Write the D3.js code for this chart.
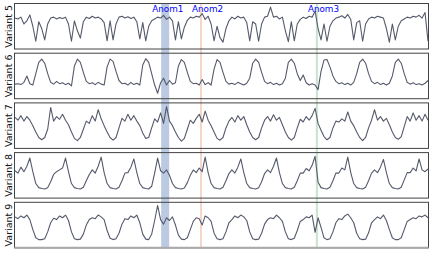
<!DOCTYPE html>
<html>
<head>
<meta charset="utf-8">
<script src="https://cdn.jsdelivr.net/npm/d3@7"></script>
<style>
  body { margin: 0; background: #fff; }
  svg { display: block; font-family: "DejaVu Sans", sans-serif; }
</style>
</head>
<body>
<svg id="chart" width="432" height="255"></svg>
<script>
// -- data (0 = panel bottom, 1 = panel top) -- //
let panelLabels = ["Variant 5", "Variant 6", "Variant 7", "Variant 8", "Variant 9"];

let variant5 = [0.68,0.66,0.70,0.55,0.62,0.75,0.50,0.17,0.60,0.45,0.20,0.55,0.68,0.70,0.66,0.69,0.67,0.70,0.55,0.17,
  0.62,0.40,0.24,0.60,0.70,0.67,0.72,0.68,0.70,0.66,0.58,0.18,0.62,0.20,0.55,0.70,0.72,0.68,0.71,0.67,
  0.70,0.60,0.22,0.58,0.18,0.50,0.62,0.66,0.70,0.68,0.74,0.65,0.70,0.62,0.20,0.60,0.22,0.48,0.63,0.70,
  0.68,0.72,0.70,0.78,0.65,0.72,0.55,0.18,0.50,0.25,0.15,0.45,0.62,0.70,0.66,0.72,0.68,0.70,0.58,0.18,
  0.60,0.55,0.17,0.55,0.70,0.72,0.92,0.70,0.72,0.66,0.70,0.40,0.16,0.60,0.18,0.55,0.65,0.70,0.67,0.72,
  0.70,0.83,0.45,0.20,0.55,0.17,0.50,0.62,0.68,0.70,0.73,0.68,0.76,0.65,0.20,0.58,0.62,0.17,0.55,0.66,
  0.70,0.68,0.72,0.70,0.68,0.45,0.15,0.55,0.20,0.50,0.62,0.66,0.70,0.68,0.72,0.70,0.74,0.68,0.80,0.17];

let variant6 = [0.32,0.33,0.31,0.36,0.50,0.33,0.30,0.55,0.80,0.87,0.78,0.55,0.36,0.32,0.38,0.33,0.35,0.31,0.34,0.28,
  0.72,0.87,0.80,0.58,0.38,0.33,0.35,0.31,0.36,0.32,0.30,0.70,0.87,0.82,0.60,0.40,0.33,0.34,0.30,0.36,
  0.31,0.34,0.30,0.74,0.88,0.80,0.55,0.30,0.12,0.35,0.45,0.30,0.40,0.32,0.35,0.72,0.86,0.80,0.58,0.38,
  0.33,0.34,0.30,0.42,0.31,0.35,0.30,0.65,0.86,0.80,0.58,0.38,0.32,0.34,0.31,0.36,0.33,0.30,0.34,0.45,
  0.78,0.87,0.80,0.58,0.38,0.33,0.36,0.31,0.34,0.30,0.33,0.45,0.80,0.87,0.78,0.55,0.40,0.52,0.35,0.30,
  0.33,0.30,0.20,0.60,0.85,0.86,0.70,0.50,0.38,0.33,0.35,0.31,0.34,0.30,0.36,0.55,0.80,0.87,0.78,0.55,
  0.38,0.33,0.36,0.31,0.34,0.30,0.34,0.50,0.80,0.87,0.78,0.55,0.36,0.32,0.35,0.31,0.33,0.30,0.34,0.40];

let variant7 = [0.68,0.62,0.72,0.60,0.70,0.62,0.50,0.36,0.24,0.19,0.24,0.42,0.90,0.60,0.70,0.64,0.75,0.62,0.52,0.36,
  0.22,0.17,0.24,0.42,0.60,0.55,0.72,0.60,0.85,0.65,0.50,0.36,0.24,0.18,0.24,0.45,0.66,0.60,0.75,0.62,
  0.72,0.60,0.50,0.34,0.22,0.24,0.45,0.65,0.58,0.78,0.55,0.92,0.60,0.50,0.36,0.24,0.16,0.22,0.42,0.62,
  0.55,0.66,0.75,0.58,0.82,0.62,0.50,0.36,0.22,0.18,0.24,0.45,0.60,0.68,0.58,0.72,0.62,0.70,0.52,0.36,
  0.24,0.19,0.24,0.45,0.62,0.70,0.60,0.74,0.62,0.68,0.52,0.36,0.24,0.18,0.24,0.45,0.64,0.58,0.70,0.62,
  0.72,0.88,0.55,0.40,0.26,0.19,0.24,0.45,0.60,0.58,0.65,0.60,0.80,0.60,0.50,0.36,0.24,0.17,0.24,0.45,
  0.62,0.85,0.62,0.70,0.60,0.66,0.52,0.36,0.24,0.20,0.26,0.48,0.70,0.60,0.78,0.62,0.72,0.60,0.75,0.62];

let variant8 = [0.60,0.55,0.68,0.58,0.70,0.88,0.58,0.32,0.23,0.21,0.20,0.23,0.36,0.52,0.58,0.62,0.66,0.88,0.58,0.32,
  0.23,0.21,0.20,0.24,0.38,0.52,0.62,0.55,0.70,0.90,0.56,0.32,0.23,0.21,0.20,0.24,0.38,0.55,0.56,0.68,
  0.86,0.56,0.32,0.23,0.21,0.20,0.26,0.55,0.88,0.60,0.55,0.62,0.50,0.32,0.23,0.21,0.20,0.22,0.34,0.50,
  0.62,0.56,0.66,0.58,0.90,0.56,0.32,0.23,0.21,0.20,0.24,0.38,0.54,0.62,0.55,0.68,0.86,0.56,0.32,0.23,
  0.21,0.20,0.23,0.36,0.54,0.62,0.56,0.70,0.88,0.56,0.32,0.23,0.21,0.20,0.24,0.38,0.55,0.55,0.65,0.60,
  0.72,0.92,0.35,0.23,0.21,0.20,0.24,0.38,0.55,0.55,0.66,0.62,0.90,0.56,0.32,0.23,0.21,0.20,0.24,0.38,
  0.55,0.62,0.56,0.68,0.85,0.56,0.32,0.23,0.21,0.20,0.24,0.40,0.56,0.56,0.66,0.60,0.86,0.62,0.58,0.64];

let variant9 = [0.68,0.64,0.70,0.66,0.72,0.62,0.40,0.22,0.18,0.18,0.20,0.35,0.55,0.65,0.62,0.70,0.66,0.72,0.60,0.35,
  0.20,0.18,0.19,0.30,0.50,0.62,0.66,0.64,0.72,0.68,0.62,0.38,0.21,0.18,0.20,0.32,0.52,0.64,0.62,0.70,
  0.66,0.72,0.55,0.30,0.19,0.18,0.30,0.60,0.93,0.62,0.52,0.66,0.60,0.68,0.50,0.28,0.19,0.18,0.22,0.40,
  0.58,0.66,0.64,0.50,0.70,0.66,0.58,0.32,0.20,0.18,0.20,0.35,0.55,0.62,0.70,0.66,0.72,0.68,0.60,0.35,
  0.20,0.18,0.19,0.32,0.52,0.62,0.66,0.64,0.72,0.66,0.58,0.35,0.20,0.18,0.21,0.38,0.58,0.62,0.68,0.66,
  0.72,0.34,0.66,0.45,0.22,0.18,0.20,0.35,0.55,0.64,0.62,0.70,0.74,0.66,0.55,0.32,0.20,0.18,0.19,0.33,
  0.55,0.62,0.68,0.64,0.72,0.60,0.40,0.22,0.18,0.18,0.22,0.40,0.58,0.62,0.66,0.64,0.70,0.68,0.72,0.66];

let allSeries = [variant5, variant6, variant7, variant8, variant9];

// -- anomalies, in sample index units -- //
let anomLabels = ["Anom1", "Anom2", "Anom3"];
let anomStart = [49.2, 62.6, 101.6];
let anomEnd = [51.9, 62.6, 101.6];
let anomColors = ["#4c72b0", "#dd8452", "#55a868"];

// -- layout -- //
let left = 14.5, right = 428.5;
let top0 = 3.5, panelH = 45.5, panelStep = 49.7;
let nPanels = allSeries.length;
let bottomAll = top0 + (nPanels - 1) * panelStep + panelH;

let svg = d3.select("#chart");

let xScale = d3.scaleLinear()
  .domain([0, variant5.length - 1])
  .range([left + 0.5, right - 0.5]);

// -- anomaly bands behind everything -- //
let anomLayer = svg.append("g").attr("class", "anoms");
anomLabels.forEach((name, k) => {
  let x0 = xScale(anomStart[k]);
  let x1 = xScale(anomEnd[k]);
  let thin = x1 - x0 < 2;
  anomLayer.append("rect")
    .attr("x", thin ? x0 - 1 : x0)
    .attr("y", top0)
    .attr("width", thin ? 2 : x1 - x0)
    .attr("height", bottomAll - top0)
    .style("fill", anomColors[k])
    .style("opacity", thin ? 0.32 : 0.38);
});

// -- one panel per variant -- //
allSeries.forEach((series, i) => {
  let top = top0 + i * panelStep;
  let yScale = d3.scaleLinear().domain([0, 1]).range([top + panelH, top]);

  let panel = svg.append("g").attr("class", "panel");

  let line = d3.line()
    .x((d, j) => xScale(j))
    .y(d => yScale(d));

  panel.append("path")
    .datum(series)
    .attr("d", line)
    .style("fill", "none")
    .style("stroke", "#555a6b")
    .style("stroke-width", 1.1)
    .style("stroke-linejoin", "round");

  // -- frame -- //
  panel.append("rect")
    .attr("x", left)
    .attr("y", top)
    .attr("width", right - left)
    .attr("height", panelH)
    .style("fill", "none")
    .style("stroke", "#444")
    .style("stroke-width", 1);

  if (i == nPanels - 1) {
    panel.append("line")
      .attr("x1", left)
      .attr("x2", right)
      .attr("y1", top + panelH)
      .attr("y2", top + panelH)
      .style("stroke", "#aaa")
      .style("stroke-width", 2);
  }

  // -- y label -- //
  svg.append("text")
    .attr("transform", `translate(11.5, ${top + panelH / 2}) rotate(-90)`)
    .attr("text-anchor", "middle")
    .style("font-size", "9.5px")
    .style("fill", "#111")
    .text(panelLabels[i]);
});

// -- anomaly names on top panel -- //
anomLabels.forEach((name, k) => {
  svg.append("text")
    .attr("x", xScale(anomStart[k]) - 9)
    .attr("y", 12)
    .style("font-size", "8.8px")
    .style("fill", "blue")
    .text(name);
});
</script>
</body>
</html>
